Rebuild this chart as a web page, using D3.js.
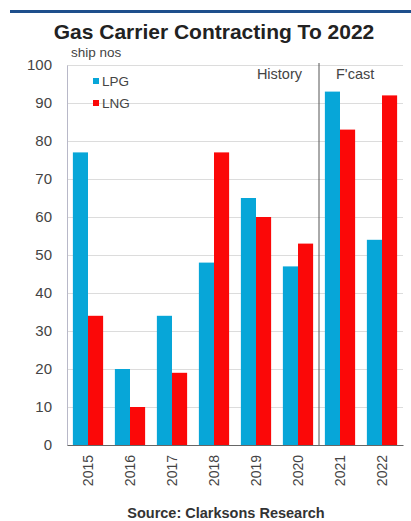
<!DOCTYPE html>
<html>
<head>
<meta charset="utf-8">
<script src="https://cdn.jsdelivr.net/npm/d3@7"></script>
<style>
  html, body { margin: 0; padding: 0; background: #fff; }
  svg { display: block; font-family: "Liberation Sans", Arial, sans-serif; }
</style>
</head>
<body>
<svg id="chart" width="411" height="521"></svg>
<script>
// Gas carrier contracting, ship numbers per year
const years = ["2015", "2016", "2017", "2018", "2019", "2020", "2021", "2022"];
const lpg = [77, 20, 34, 48, 65, 47, 93, 54];
const lng = [34, 10, 19, 77, 60, 53, 83, 92];
const seriesNames = ["LPG", "LNG"];
const seriesColors = ["#07a6d8", "#fb0808"];
const yTicks = [0, 10, 20, 30, 40, 50, 60, 70, 80, 90, 100];
const forecastStart = "2021";

const svg = d3.select("#chart");
const margin = { left: 67, right: 8, top: 65, bottom: 76 };
const W = 411, H = 521;
const FONT = "'Liberation Sans', Arial, sans-serif";

const x = d3.scaleBand().domain(years).range([margin.left, W - margin.right]).paddingInner(0.28).paddingOuter(0.14);
const xs = d3.scaleBand().domain(seriesNames).range([0, x.bandwidth()]);
const y = d3.scaleLinear().domain([0, 100]).range([H - margin.bottom, margin.top]);

// top rule
svg.append("line").attr("x1", 10).attr("x2", 411).attr("y1", 11.5).attr("y2", 11.5)
  .attr("stroke", "#1e4f8c").attr("stroke-width", 3);

// title
svg.append("text").attr("x", 214).attr("y", 39).attr("text-anchor", "middle")
  .attr("font-size", 21).attr("font-weight", "bold").attr("fill", "#222")
  .text("Gas Carrier Contracting To 2022");

// unit label
svg.append("text").attr("x", 71).attr("y", 57).attr("font-size", 13.5).attr("fill", "#444").text("ship nos");

// gridlines
svg.append("g").selectAll("line").data(yTicks.filter(d => d > 0)).join("line")
  .attr("x1", margin.left).attr("x2", W - margin.right)
  .attr("y1", d => y(d) + 0.5).attr("y2", d => y(d) + 0.5)
  .attr("stroke", "#dcdcdc").attr("stroke-width", 1);

// y axis
const yAxis = svg.append("g").attr("transform", `translate(${margin.left},0)`)
  .call(d3.axisLeft(y).tickValues(yTicks).tickSize(0).tickPadding(15));
yAxis.select(".domain").attr("stroke", "#b8b8c8");
yAxis.selectAll("text").attr("font-size", 15).attr("fill", "#444").attr("font-family", FONT);

// bars
const groups = svg.append("g").selectAll("g").data(years).join("g")
  .attr("transform", d => `translate(${x(d)},0)`);
groups.selectAll("rect").data((d, i) => [lpg[i], lng[i]].map((v, k) => ({ key: seriesNames[k], v, k })))
  .join("rect")
  .attr("x", d => xs(d.key)).attr("width", xs.bandwidth())
  .attr("y", d => y(d.v)).attr("height", d => y(0) - y(d.v))
  .attr("fill", d => seriesColors[d.k]);

// x axis
const xAxis = svg.append("g").attr("transform", `translate(0,${y(0)})`)
  .call(d3.axisBottom(x).tickSize(0).tickPadding(0));
xAxis.select(".domain").attr("stroke", "#666");
xAxis.selectAll("text")
  .attr("font-size", 14).attr("fill", "#444").attr("font-family", FONT)
  .attr("transform", "rotate(-90)")
  .attr("text-anchor", "end")
  .attr("dx", "-10").attr("dy", "0.35em").attr("y", 0);

// history / forecast divider
const divX = x(forecastStart) - (x.step() - x.bandwidth()) / 2;
svg.append("line").attr("x1", divX).attr("x2", divX).attr("y1", y(100) - 2).attr("y2", y(0))
  .attr("stroke", "#555").attr("stroke-width", 1);
svg.append("text").attr("x", divX - 17).attr("y", 79).attr("text-anchor", "end")
  .attr("font-size", 14.5).attr("fill", "#444").text("History");
svg.append("text").attr("x", divX + 17).attr("y", 79)
  .attr("font-size", 14.5).attr("fill", "#444").text("F'cast");

// legend
const legend = svg.append("g").selectAll("g").data(seriesNames).join("g")
  .attr("transform", (d, i) => `translate(93,${81 + i * 22})`);
legend.append("rect").attr("x", 0).attr("y", -3).attr("width", 6).attr("height", 6)
  .attr("fill", (d, i) => seriesColors[i]);
legend.append("text").attr("x", 9).attr("y", 0).attr("dy", "0.35em")
  .attr("font-size", 13.5).attr("fill", "#444").text(d => d);

// source
svg.append("text").attr("x", 226).attr("y", 518).attr("text-anchor", "middle")
  .attr("font-size", 14.5).attr("font-weight", "bold").attr("fill", "#333")
  .text("Source: Clarksons Research");
</script>
</body>
</html>
